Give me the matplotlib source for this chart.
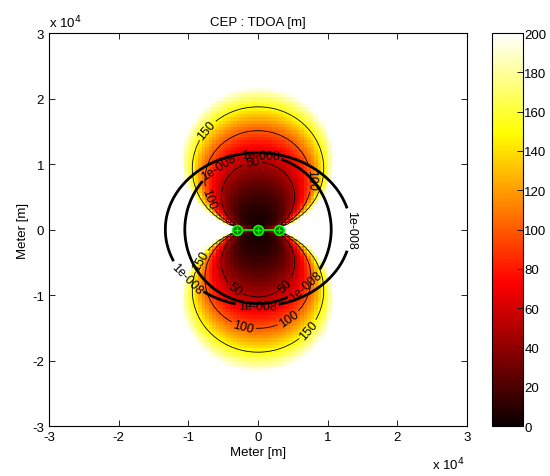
import numpy as np
import matplotlib
matplotlib.use("Agg")
import matplotlib.pyplot as plt

plt.rcParams['font.family'] = ['Liberation Sans', 'DejaVu Sans']
plt.rcParams['font.size'] = 9.5

# sensors on the baseline (m), middle one is the TDOA reference
sensor_x = [-3000.0, 0.0, 3000.0]
sensor_y = [0.0, 0.0, 0.0]
ref_idx = 1
range_sigma = 4.2          # range-difference error (m), estimated
cep_levels = [50, 100, 150]
cep_clim = [0, 200]

# coverage (received power) ellipses for the 1e-008 contour
cov_ax = [13300.0, 10500.0]
cov_ay = [11700.0, 11300.0]
power_level = 1e-8

grid = np.linspace(-3e4, 3e4, 120)
X, Y = np.meshgrid(grid, grid)


def unit_vec(sx, sy):
    dx = X - sx
    dy = Y - sy
    r = np.hypot(dx, dy)
    return dx / r, dy / r


# CRLB of TDOA position fix -> CEP
ux0, uy0 = unit_vec(sensor_x[ref_idx], sensor_y[ref_idx])
f11 = np.zeros_like(X)
f22 = np.zeros_like(X)
f12 = np.zeros_like(X)
for i in range(len(sensor_x)):
    if i == ref_idx:
        continue
    ux, uy = unit_vec(sensor_x[i], sensor_y[i])
    a = ux - ux0
    b = uy - uy0
    f11 += a * a
    f22 += b * b
    f12 += a * b
f11 /= range_sigma ** 2
f22 /= range_sigma ** 2
f12 /= range_sigma ** 2

with np.errstate(divide='ignore', invalid='ignore'):
    det = f11 * f22 - f12 ** 2
    c11 = f22 / det
    c22 = f11 / det
    c12 = -f12 / det
    tr = c11 + c22
    disc = np.sqrt(np.maximum(tr ** 2 / 4 - (c11 * c22 - c12 ** 2), 0))
    l1 = tr / 2 + disc
    l2 = np.maximum(tr / 2 - disc, 0)
    cep = 0.5887 * (np.sqrt(l1) + np.sqrt(l2))
cep = np.where(np.isfinite(cep), cep, 1e6)
cep = np.minimum(cep, 1e6)

fig = plt.figure(figsize=(5.5, 4.77), dpi=100)
ax = fig.add_axes([0.0891, 0.1048, 0.76, 0.8239])
cax = fig.add_axes([0.8945, 0.1048, 0.0564, 0.8239])

mesh = ax.pcolormesh(X, Y, cep, cmap='hot', vmin=cep_clim[0], vmax=cep_clim[1],
                     shading='nearest')

cs = ax.contour(X, Y, cep, levels=cep_levels, colors='k', linewidths=0.6)
cep_label_pos = [(-7170, 15040), (7890, 7680), (-7320, 4660), (-720, 10000),
                 (7900, -15950), (-2300, -15650), (4900, -14400),
                 (-7900, -4960), (-4000, -9850), (4160, -8780)]
ax.clabel(cs, fmt='%d', fontsize=9, manual=cep_label_pos, inline=True,
          inline_spacing=2)

pw_label_pos = [
    [(13200, 0), (-10760, -8000), (-140, -12140)],
    [(-5160, 8780), (290, 11070), (7030, -8780)],
]
for k in range(2):
    power = power_level / ((X / cov_ax[k]) ** 2 + (Y / cov_ay[k]) ** 2)
    cp = ax.contour(X, Y, power, levels=[power_level], colors='k',
                    linewidths=2.0)
    ax.clabel(cp, fmt=lambda v: '1e-008', fontsize=9,
              manual=pw_label_pos[k], inline=True, inline_spacing=2)

ax.plot(sensor_x, sensor_y, '-', color='#00ff00', lw=1.2)
ax.plot(sensor_x, sensor_y, 'o', mfc='#006600', mec='#00ff00', ms=7, mew=1.3)
ax.plot(sensor_x, sensor_y, '+', color='#00ff00', ms=5, mew=1.0)

ax.set_xlim(-3e4, 3e4)
ax.set_ylim(-3e4, 3e4)
ticks = np.arange(-3e4, 3.01e4, 1e4)
ax.set_xticks(ticks)
ax.set_yticks(ticks)
ax.set_xticklabels(['%d' % (t / 1e4) for t in ticks])
ax.set_yticklabels(['%d' % (t / 1e4) for t in ticks])
ax.tick_params(direction='in', length=4, top=True, right=True, width=0.6)
for sp in ax.spines.values():
    sp.set_linewidth(0.8)
ax.set_title('CEP : TDOA [m]', fontsize=9.5, pad=6)
ax.set_xlabel('Meter [m]', labelpad=2)
ax.set_ylabel('Meter [m]', labelpad=2)

fig.text(49 / 550, 1 - 28 / 477, r'x 10$^{4}$', fontsize=9.5, ha='left',
         va='baseline')
fig.text(432 / 550, 1 - 470 / 477, r'x 10$^{4}$', fontsize=9.5, ha='left',
         va='baseline')

cb = fig.colorbar(mesh, cax=cax)
cb.set_ticks(np.arange(0, 201, 20))
cb.ax.tick_params(direction='in', length=4, width=0.6, pad=1, labelsize=9.5)
cb.outline.set_linewidth(0.8)

fig.savefig('out.png', dpi=100)
